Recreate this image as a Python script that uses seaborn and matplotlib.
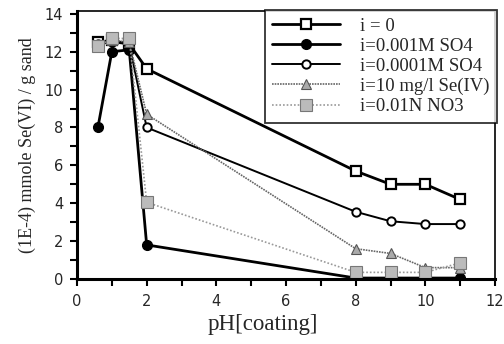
import matplotlib
matplotlib.use("Agg")
import matplotlib.pyplot as plt
import seaborn as sns
import pandas as pd
from matplotlib.ticker import MultipleLocator

ph_all = [0.6, 1.0, 1.5, 2.0, 8.0, 9.0, 10.0, 11.0]
i0 = [12.5, 12.6, 12.4, 11.1, 5.7, 5.0, 5.0, 4.2]
so4_001 = [8.0, 12.0, 12.1, 1.8, 0.05, 0.05, 0.05, 0.05]
so4_0001 = [12.4, 12.5, 12.4, 8.0, 3.55, 3.05, 2.9, 2.9]
se_iv = [12.3, 12.6, 12.5, 8.7, 1.6, 1.35, 0.6, 0.6]
no3 = [12.3, 12.7, 12.7, 4.05, 0.35, 0.35, 0.35, 0.85]

labels = ["i = 0", "i=0.001M SO4", "i=0.0001M SO4", "i=10 mg/l Se(IV)", "i=0.01N NO3"]

sns.set_style("ticks")
plt.rcParams['font.family'] = ['DejaVu Sans']

fig = plt.figure(figsize=(5.04, 3.44), dpi=100)
ax = fig.add_axes([77/504, 1-279/344, (495-77)/504, (279-11)/344])

styles = [
    dict(y=i0, color="black", lw=2.0, ls="-", marker="s", ms=7, mfc="white", mec="black", mew=1.6),
    dict(y=so4_001, color="black", lw=2.0, ls="-", marker="o", ms=7, mfc="black", mec="black", mew=1.0),
    dict(y=so4_0001, color="black", lw=1.4, ls="-", marker="o", ms=6, mfc="white", mec="black", mew=1.4),
    dict(y=se_iv, color="#666666", lw=1.2, ls=(0, (1, 0.6)), marker="^", ms=7, mfc="#aaaaaa", mec="#555555", mew=0.8),
    dict(y=no3, color="#999999", lw=1.2, ls=(0, (1, 1.2)), marker="s", ms=8, mfc="#bbbbbb", mec="#777777", mew=0.8),
]

for lab, st in zip(labels, styles):
    df = pd.DataFrame({"ph": ph_all, "v": st["y"]})
    sns.lineplot(data=df, x="ph", y="v", ax=ax, color=st["color"], lw=st["lw"],
                 linestyle=st["ls"], marker=st["marker"], markersize=st["ms"],
                 markerfacecolor=st["mfc"], markeredgecolor=st["mec"],
                 markeredgewidth=st["mew"], label=lab, sort=False)

ax.set_xlim(0, 12)
ax.set_ylim(0, 14.15)
ax.xaxis.set_major_locator(MultipleLocator(2))
ax.xaxis.set_minor_locator(MultipleLocator(1))
ax.yaxis.set_major_locator(MultipleLocator(2))
ax.yaxis.set_minor_locator(MultipleLocator(1))
ax.tick_params(which="both", direction="out", width=1.5, length=5, labelsize=10.5, color="black")
ax.tick_params(axis="x", pad=6)
ax.tick_params(axis="y", pad=5)
for s in ["left", "bottom"]:
    ax.spines[s].set_linewidth(2.2)
for s in ["top", "right"]:
    ax.spines[s].set_linewidth(1.2)
    ax.spines[s].set_visible(True)
for s in ax.spines.values():
    s.set_color("black")

ax.set_xlabel("pH[coating]", family="Liberation Serif", fontsize=16.5)
ax.xaxis.set_label_coords(0.445, -0.13)
ax.set_ylabel("(1E-4) mmole Se(VI) / g sand", family="Liberation Serif", fontsize=13, labelpad=6)

leg = ax.legend(loc="upper right", bbox_to_anchor=(1.004, 1.004), prop={"family": "Liberation Serif", "size": 13.5},
                frameon=True, fancybox=False, edgecolor="black", handlelength=3.6,
                labelspacing=0.16, borderpad=0.4, handletextpad=1.05, borderaxespad=0.0)
leg.get_frame().set_linewidth(1.3)

fig.savefig("out.png", dpi=100)
